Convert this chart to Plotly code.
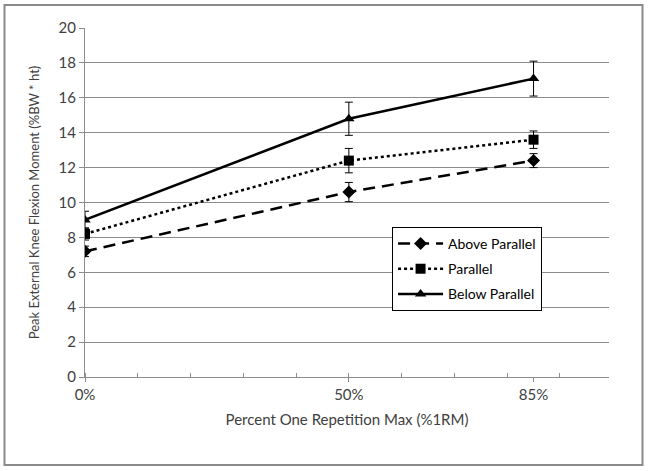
import plotly.graph_objects as go

x_vals = [0, 50, 85]
x_tick_labels = ["0%", "50%", "85%"]
series_names = ["Above Parallel", "Parallel", "Below Parallel"]
above_parallel = [7.2, 10.6, 12.4]
above_parallel_err = [0.3, 0.55, 0.4]
parallel = [8.2, 12.4, 13.6]
parallel_err = [0.35, 0.7, 0.5]
below_parallel = [9.0, 14.8, 17.1]
below_parallel_err = [0.5, 0.95, 1.0]

FONT = "Lato"
TXT = "#404040"
GRID = "#8c8c8c"

fig = go.Figure()

styles = [
    (above_parallel, above_parallel_err, "12px,7px", "diamond", 10),
    (parallel, parallel_err, "dot", "square", 10),
    (below_parallel, below_parallel_err, "solid", "triangle-up", 10),
]
for name, (vals, errs, dash, sym, sz) in zip(series_names, styles):
    fig.add_trace(go.Scatter(
        x=x_vals, y=vals, name=name, legendgroup=name,
        mode="lines+markers",
        line=dict(color="black", width=2.5, dash=dash),
        marker=dict(symbol=sym, size=sz, color="black"),
        error_y=dict(type="data", array=errs, visible=True,
                     color="black", thickness=1, width=4),
    ))

fig.update_layout(
    width=649, height=471,
    margin=dict(l=85, r=40, t=28, b=94),
    paper_bgcolor="white", plot_bgcolor="white",
    font=dict(family=FONT, size=13, color=TXT),
    showlegend=True,
    legend=dict(
        x=0.586, y=0.43, xanchor="left", yanchor="top",
        bgcolor="white", bordercolor="black", borderwidth=1,
        font=dict(family=FONT, size=14, color="black"),
        tracegroupgap=4, itemwidth=45,
    ),
    xaxis=dict(
        range=[0, 99.3], tickvals=x_vals, ticktext=x_tick_labels,
        ticks="outside", ticklen=4, tickcolor=GRID,
        showline=True, linecolor=GRID, linewidth=1,
        showgrid=False, zeroline=False,
        minor=dict(dtick=10, ticks="inside", ticklen=4, tickcolor=GRID, showgrid=False),
        title=dict(text="Percent One Repetition Max (%1RM)", standoff=12,
                   font=dict(family=FONT, size=15, color=TXT)),
        tickfont=dict(family=FONT, size=15, color=TXT),
    ),
    yaxis=dict(
        range=[0, 20], dtick=2,
        ticks="outside", ticklen=5, tickcolor=GRID,
        showline=True, linecolor=GRID, linewidth=1,
        showgrid=True, gridcolor=GRID, gridwidth=1, zeroline=False,
        title=dict(text="Peak External Knee Flexion Moment (%BW * ht)", standoff=16,
                   font=dict(family=FONT, size=13, color=TXT)),
        tickfont=dict(family=FONT, size=15, color=TXT),
    ),
    shapes=[dict(
        type="rect", xref="paper", yref="paper",
        x0=(4.5 - 85) / 524, x1=(642.5 - 85) / 524,
        y0=(377 - 465) / 349, y1=(377 - 5) / 349,
        line=dict(color="#8a8a8a", width=2), fillcolor="rgba(0,0,0,0)", layer="below",
    )],
)

fig.write_html("out.html", config={"displayModeBar": False},
               post_script="document.body.style.margin='0px';")
